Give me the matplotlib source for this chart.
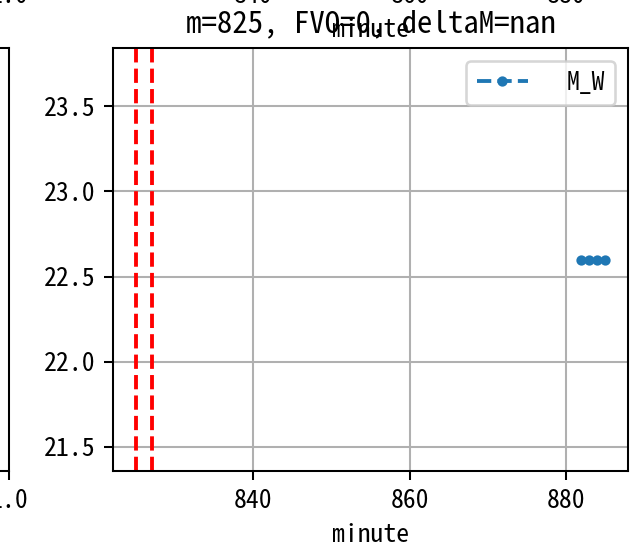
import matplotlib
matplotlib.use("Agg")
import matplotlib.pyplot as plt

plt.rcParams['font.family'] = ['Noto Sans Mono CJK SC', 'DejaVu Sans Mono']
plt.rcParams['axes.unicode_minus'] = False

# data for the visible panel
minutes = [882, 883, 884, 885]
m_w = [22.6, 22.6, 22.6, 22.6]
marks = [825, 827]
title = "m=825, FVO=0, deltaM=nan"

DPI = 185
W, H = 631, 549
fig = plt.figure(figsize=(W / DPI, H / DPI), dpi=DPI)


def box(x0, y_top, w=515, h=423):
    # pixel box (top-left origin) -> figure fraction
    return [x0 / W, (H - y_top - h) / H, w / W, h / H]


# neighbouring panels of the bigger grid, mostly off the crop
for x0, y0 in [(-506, 48), (-506, -457), (113, -457)]:
    a = fig.add_axes(box(x0, y0))
    if x0 == 113:
        a.plot(minutes, m_w, '--.')
        for v in marks:
            a.axvline(v, color='red', linestyle='--')
        a.grid(True)
    a.set_xlabel("minute")

ax = fig.add_axes(box(113, 48))
ax.plot(minutes, m_w, '--.', label="M_W")
for v in marks:
    ax.axvline(v, color='red', linestyle='--')
ax.set_title(title)
ax.set_xlabel("minute")
ax.grid(True)
ax.legend(loc='upper right', handletextpad=1.5)

fig.savefig("out.png", dpi=DPI)
